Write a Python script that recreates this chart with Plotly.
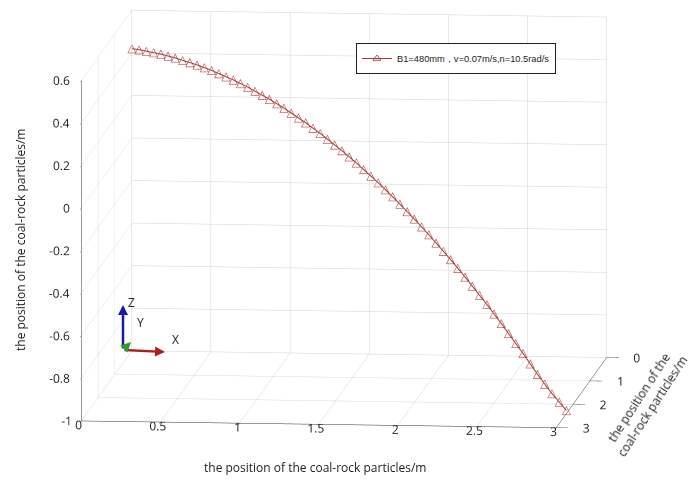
import plotly.graph_objects as go

# particle trajectory samples (m)
pos_x = [0.00, 0.05, 0.10, 0.15, 0.20, 0.25, 0.30, 0.35, 0.40, 0.45,
         0.50, 0.55, 0.60, 0.65, 0.70, 0.75, 0.80, 0.85, 0.90, 0.95,
         1.00, 1.05, 1.10, 1.15, 1.20, 1.25, 1.30, 1.35, 1.40, 1.45,
         1.50, 1.55, 1.60, 1.65, 1.70, 1.75, 1.80, 1.85, 1.90, 1.95,
         2.00, 2.05, 2.10, 2.15, 2.20, 2.25, 2.30, 2.35, 2.40, 2.45,
         2.50, 2.55, 2.60, 2.65, 2.70, 2.75, 2.80, 2.85, 2.90, 2.95, 3.00]
pos_y = [0.00, 0.04, 0.08, 0.12, 0.16, 0.20, 0.24, 0.28, 0.32, 0.36,
         0.40, 0.44, 0.48, 0.52, 0.56, 0.60, 0.64, 0.68, 0.72, 0.76,
         0.80, 0.84, 0.88, 0.92, 0.96, 1.00, 1.04, 1.08, 1.12, 1.16,
         1.20, 1.24, 1.28, 1.32, 1.36, 1.40, 1.44, 1.48, 1.52, 1.56,
         1.60, 1.64, 1.68, 1.72, 1.76, 1.80, 1.84, 1.88, 1.92, 1.96,
         2.00, 2.04, 2.08, 2.12, 2.16, 2.20, 2.24, 2.28, 2.32, 2.36, 2.40]
pos_z = [0.420, 0.420, 0.418, 0.416, 0.414, 0.410, 0.406, 0.400, 0.394, 0.388,
         0.380, 0.372, 0.362, 0.352, 0.342, 0.330, 0.318, 0.304, 0.290, 0.276,
         0.260, 0.244, 0.226, 0.208, 0.190, 0.170, 0.150, 0.128, 0.106, 0.084,
         0.060, 0.036, 0.010, -0.016, -0.042, -0.070, -0.098, -0.128, -0.158, -0.188,
         -0.220, -0.252, -0.286, -0.320, -0.354, -0.390, -0.426, -0.464, -0.502, -0.540,
         -0.580, -0.620, -0.662, -0.704, -0.746, -0.790, -0.834, -0.875, -0.915, -0.950, -0.985]

series_name = "B1=480mm，v=0.07m/s,n=10.5rad/s"
axis_title = "the position of the coal-rock particles/m"
y_title = "the position of the<br>coal-rock particles/m"

x_ticks = [0, 0.5, 1, 1.5, 2, 2.5, 3]
x_ticktext = ["0", "0.5", "1", "1.5", "2", "2.5", "3"]
y_ticks = [0, 1, 2, 3]
y_ticktext = ["0", "1", "2", "3"]
z_ticks = [-1, -0.8, -0.6, -0.4, -0.2, 0, 0.2, 0.4, 0.6]
z_ticktext = ["-1", "-0.8", "-0.6", "-0.4", "-0.2", "0", "0.2", "0.4", "0.6"]

line_color = "#9e3b3a"
mark_color = "#b9504e"
font_family = "Open Sans, Noto Sans, sans-serif"

fig = go.Figure()

fig.add_trace(go.Scatter3d(
    x=pos_x, y=pos_y, z=pos_z,
    mode="lines+text",
    text=["△"] * len(pos_x),
    textposition="middle center",
    textfont=dict(color=mark_color, size=12, family="DejaVu Sans"),
    line=dict(color=line_color, width=2),
    showlegend=False,
    hoverinfo="skip",
))

# z tick labels set on the front-left vertical edge (x=0, y=3)
fig.add_trace(go.Scatter3d(
    x=[0] * len(z_ticks), y=[3] * len(z_ticks), z=z_ticks,
    mode="text",
    text=z_ticktext,
    textposition="middle left",
    textfont=dict(color="#222222", size=12, family=font_family),
    showlegend=False,
    hoverinfo="skip",
))

# legend entry for the trajectory
fig.add_trace(go.Scatter(
    x=[None], y=[None], mode="lines+markers", name=series_name,
    line=dict(color=line_color, width=1),
    marker=dict(symbol="triangle-up-open", size=7, color=mark_color, line=dict(width=1)),
))

axis_common = dict(
    showbackground=False,
    gridcolor="#d2d2d2",
    gridwidth=1,
    showline=True,
    linecolor="#333333",
    linewidth=1,
    ticks="outside",
    tickcolor="#333333",
    tickangle=0,
    zeroline=False,
    showspikes=False,
    title=dict(text=""),
    tickfont=dict(family=font_family, size=12, color="#222222"),
)

fig.update_layout(
    width=688, height=481,
    margin=dict(l=0, r=0, t=0, b=0),
    paper_bgcolor="white",
    plot_bgcolor="white",
    font=dict(family=font_family, color="#222222"),
    xaxis=dict(visible=False),
    yaxis=dict(visible=False),
    scene=dict(
        domain=dict(x=[0.0, 1.0], y=[0.09, 1.0]),
        aspectmode="manual",
        aspectratio=dict(x=2.18, y=2.29, z=1.57),
        xaxis=dict(axis_common, range=[0, 3], tickvals=x_ticks, ticktext=x_ticktext,
                   ticklen=12),
        yaxis=dict(axis_common, autorange="reversed", tickvals=y_ticks, ticktext=y_ticktext,
                   autorangeoptions=dict(include=[0, 3], clipmin=0, clipmax=3),
                   ticklen=10),
        zaxis=dict(axis_common, range=[-1, 0.6], tickvals=z_ticks, showticklabels=False,
                   ticklen=14),
        camera=dict(
            projection=dict(type="orthographic"),
            eye=dict(x=0.34, y=-3.36, z=0.48),
            up=dict(x=0, y=0, z=1),
            center=dict(x=0, y=0, z=0),
        ),
    ),
    legend=dict(
        x=356 / 688, y=1 - 43 / 481, xanchor="left", yanchor="top",
        bordercolor="#222222", borderwidth=1, bgcolor="white",
        font=dict(family="Liberation Sans, Arial, sans-serif", size=9.3, color="#222222"),
    ),
    annotations=[
        dict(text=axis_title, x=315 / 688, y=1 - 467 / 481, xref="paper", yref="paper",
             xanchor="center", yanchor="middle", showarrow=False, font=dict(size=12)),
        dict(text=axis_title, x=20 / 688, y=1 - 240 / 481, xref="paper", yref="paper",
             xanchor="center", yanchor="middle", showarrow=False, textangle=-90,
             font=dict(size=12)),
        dict(text=y_title, x=645 / 688, y=1 - 402 / 481, xref="paper", yref="paper",
             xanchor="center", yanchor="middle", showarrow=False, textangle=-57,
             font=dict(size=12)),
    ],
)

# orientation triad in the lower-left corner: head position, tail offset (px)
triad = [("#1a1aa6", 123, 305, 0, 45),
         ("#b01e1e", 165, 352, -42, -2),
         ("#2e9e2e", 131, 342, -8, 8)]
for color, hx, hy, dx, dy in triad:
    fig.add_annotation(
        x=hx / 688, y=1 - hy / 481, xref="paper", yref="paper",
        ax=dx, ay=dy, axref="pixel", ayref="pixel",
        text="", showarrow=True, arrowhead=2, arrowsize=0.8, arrowwidth=2.5,
        arrowcolor=color, standoff=0, startstandoff=0,
    )
for label, tx, ty in [("Z", 126, 302), ("Y", 135, 333), ("X", 170, 350)]:
    fig.add_annotation(text=label, x=tx / 688, y=1 - ty / 481, xref="paper", yref="paper",
                       showarrow=False, font=dict(size=12))

fig.write_html("out.html")
